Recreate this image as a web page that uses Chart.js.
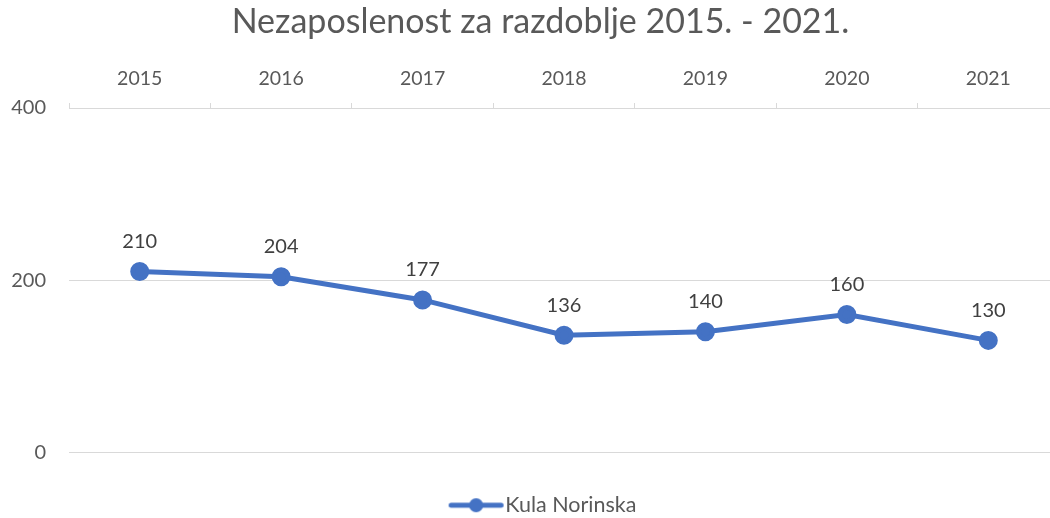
<!DOCTYPE html>
<html lang="hr">
  <head>
    <meta charset="UTF-8" />
    <title>Nezaposlenost</title>
    <script src="https://cdn.jsdelivr.net/npm/chart.js"></script>
    <style>
      body { margin: 0; overflow: hidden; background: #fff; }
      #wrap { width: 1081px; height: 518px; }
    </style>
  </head>
  <body>
    <div id="wrap"><canvas id="myChart" width="1081" height="518"></canvas></div>

    <script>
      // podaci
      const godine = ["2015", "2016", "2017", "2018", "2019", "2020", "2021"];
      const nezaposleni = [210, 204, 177, 136, 140, 160, 130];
      const yTicks = [0, 200, 400];
      const serija = "Kula Norinska";

      const plava = "#4472C4";
      const siva = "#595959";
      const mreza = "#d9d9d9";

      // ikona legende: linija s krugom (pomaknuta udesno da tekst bude blizu)
      const ikona = document.createElement("canvas");
      ikona.width = 70;
      ikona.height = 16;
      const ic = ikona.getContext("2d");
      ic.strokeStyle = plava;
      ic.lineWidth = 5;
      ic.lineCap = "round";
      ic.beginPath();
      ic.moveTo(16.5, 8);
      ic.lineTo(66.5, 8);
      ic.stroke();
      ic.fillStyle = plava;
      ic.beginPath();
      ic.arc(41.5, 8, 7, 0, Math.PI * 2);
      ic.fill();

      // oznake vrijednosti iznad točaka
      const oznake = {
        id: "oznake",
        afterDatasetsDraw(chart) {
          const ctx = chart.ctx;
          const meta = chart.getDatasetMeta(0);
          ctx.save();
          ctx.font = "20px Lato";
          ctx.fillStyle = "#404040";
          ctx.textAlign = "center";
          ctx.textBaseline = "middle";
          meta.data.forEach((p, i) => {
            ctx.fillText(chart.data.datasets[0].data[i], p.x, p.y - 30);
          });
          ctx.restore();
        },
      };

      new Chart(document.getElementById("myChart"), {
        type: "line",
        data: {
          labels: godine,
          datasets: [
            {
              label: serija,
              data: nezaposleni,
              borderColor: plava,
              backgroundColor: plava,
              borderWidth: 5,
              pointRadius: 7,
              pointHoverRadius: 7,
              tension: 0,
            },
          ],
        },
        options: {
          responsive: false,
          animation: false,
          layout: { padding: { left: 0, right: 0, top: 0, bottom: -8 } },
          plugins: {
            title: {
              display: true,
              text: "Nezaposlenost za razdoblje 2015. - 2021.",
              color: siva,
              font: { family: "Lato", size: 34, weight: "normal" },
              padding: { top: 2, bottom: 0 },
            },
            legend: {
              position: "bottom",
              title: {
                display: true,
                text: " ",
                font: { size: 1 },
                padding: { top: 41, bottom: 0 },
              },
              labels: {
                usePointStyle: true,
                pointStyle: ikona,
                pointStyleWidth: 50,
                color: siva,
                font: { family: "Lato", size: 21.5 },
                padding: 0,
              },
            },
            tooltip: { enabled: false },
          },
          scales: {
            x: {
              position: "top",
              offset: true,
              grid: {
                offset: true,
                drawOnChartArea: false,
                color: mreza,
                tickLength: 5,
              },
              border: { color: mreza, width: 1 },
              ticks: {
                color: siva,
                font: { family: "Lato", size: 19.5 },
                padding: 13,
              },
              afterFit(s) {
                s.height = 65.2;
              },
            },
            y: {
              min: 0,
              max: 400,
              afterBuildTicks(s) {
                s.ticks = yTicks.map((v) => ({ value: v }));
              },
              grid: { color: mreza, drawTicks: false },
              border: { display: false },
              ticks: {
                color: siva,
                font: { family: "Lato", size: 20 },
                padding: 23,
              },
              afterFit(s) {
                s.width = 69;
              },
            },
            // prazan prostor desno (grafikon je u originalu širi od prozora)
            desno: {
              position: "right",
              display: true,
              grid: { display: false },
              border: { display: false },
              ticks: { display: false },
              afterFit(s) {
                s.width = 22;
              },
            },
          },
        },
        plugins: [oznake],
      });
    </script>
  </body>
</html>
